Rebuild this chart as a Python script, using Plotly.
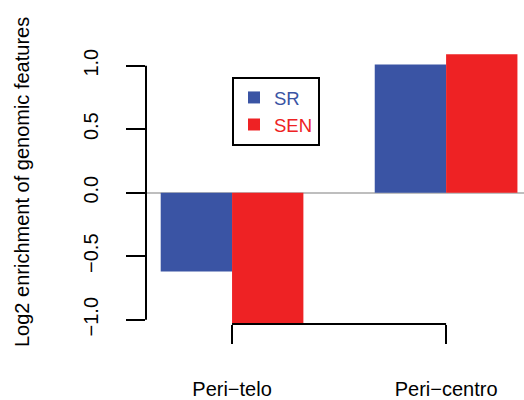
import plotly.graph_objects as go

categories = ["Peri\u2212telo", "Peri\u2212centro"]
series_names = ["SR", "SEN"]
sr_values = [-0.62, 1.01]
sen_values = [-1.03, 1.09]
ytick_vals = [-1.0, -0.5, 0.0, 0.5, 1.0]
ytick_text = ["\u22121.0", "\u22120.5", "0.0", "0.5", "1.0"]
y_title = "Log2 enrichment of genomic features"

BLUE = "#3A54A4"
RED = "#EE2224"
FONT = "Liberation Sans, Arial, Helvetica, sans-serif"

fig = go.Figure()
for name, vals, col in [(series_names[0], sr_values, BLUE), (series_names[1], sen_values, RED)]:
    fig.add_bar(
        x=categories, y=vals,
        name=f"<span style='color:{col}'>{name}</span>",
        marker=dict(color=col, line=dict(width=0)),
    )

fig.update_layout(
    width=524, height=400,
    barmode="group", bargap=1/3, bargroupgap=0,
    margin=dict(l=146, r=0, t=40, b=76, autoexpand=False),
    plot_bgcolor="white", paper_bgcolor="white",
    font=dict(family=FONT, size=20, color="black"),
    showlegend=True,
    legend=dict(
        x=0.2275, y=0.87, xanchor="left", yanchor="top",
        bordercolor="black", borderwidth=2, bgcolor="white",
        font=dict(size=18.5), tracegroupgap=0,
    ),
)

fig.update_xaxes(
    range=[-0.402, 1.364], showline=False, showgrid=False, zeroline=False,
    ticks="outside", ticklen=19, tickwidth=2, tickcolor="black",
    ticklabelstandoff=28, automargin=False, fixedrange=True,
)
fig.update_yaxes(
    range=[-1.034, 1.202], tickvals=ytick_vals, ticktext=ytick_text,
    tickangle=-90, ticks="outside", ticklen=19, tickwidth=2, tickcolor="black",
    showline=False, showgrid=False,
    zeroline=True, zerolinecolor="#BEBEBE", zerolinewidth=2,
    ticklabelstandoff=20, automargin=False, fixedrange=True,
)

# y-axis title placed in the left margin
fig.add_annotation(text=y_title, xref="paper", yref="paper", x=0, y=0.5,
                   xshift=-124, xanchor="center", yanchor="middle",
                   textangle=-90, showarrow=False, font=dict(size=20))

# R-style axis lines: y axis spanning the tick range, x axis bracket between outer categories
fig.add_shape(type="line", xref="paper", yref="y", x0=0, x1=0,
              y0=min(ytick_vals), y1=max(ytick_vals),
              line=dict(color="black", width=2), layer="above")
fig.add_shape(type="line", xref="x", yref="paper", x0=categories[0], x1=categories[-1],
              y0=0, y1=0, line=dict(color="black", width=2), layer="above")

fig.write_html("out.html", config={"displayModeBar": False},
               post_script="document.body.style.margin='0';document.body.style.padding='0';")
